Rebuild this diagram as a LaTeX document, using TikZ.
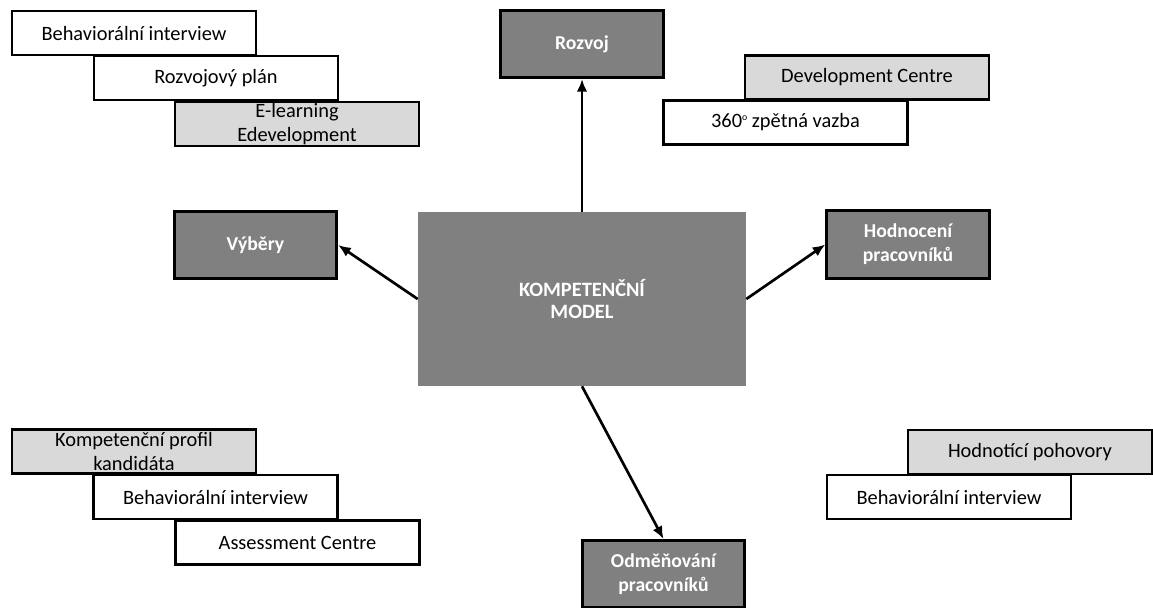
\documentclass[tikz,border=0pt]{standalone}
\usepackage{fontspec}
\setmainfont{Carlito}
\usepackage{xcolor}
\usetikzlibrary{arrows.meta}

\definecolor{darkbox}{RGB}{128,128,128}
\definecolor{lightbox}{RGB}{217,217,217}

\begin{document}
\begin{tikzpicture}[x=0.025cm, y=-0.025cm,
    box/.style={draw, line width=2pt, align=center, inner sep=1pt, font=\fontsize{14.5}{17}\selectfont},
    tool/.style={box, fill=white, minimum width=6.1cm, minimum height=1.1cm},
    toolgray/.style={tool, fill=lightbox},
    area/.style={box, fill=darkbox, text=white, minimum width=4.06cm, minimum height=1.68cm, font=\fontsize{14}{17}\selectfont\bfseries},
    core/.style={fill=darkbox, text=white, minimum width=8.2cm, minimum height=4.35cm, align=center, font=\fontsize{14.5}{16}\selectfont\bfseries},
    arrow/.style={-{Latex[length=9pt,width=7.5pt]}, line width=1.9pt}
]
\useasboundingbox (0,0) rectangle (1153,607);
\clip (0,0) rectangle (1153,607);

\node[core] at (582,299) (model) {KOMPETENČNÍ\\MODEL};

\node[area] at (582,44) (rozvoj) {Rozvoj};
\node[area] at (255.5,245) (vybery) {Výběry};
\node[area] at (908,244.5) (hodnoceni) {Hodnocení\\pracovníků};
\node[area] at (663.5,574) (odmena) {Odměňování\\pracovníků};

% rozvoj - left stack
\node[tool] at (134,33) (behavA) {Behaviorální interview};
\node[tool] at (216,78) (plan) {Rozvojový plán};
\node[toolgray] at (297,124) (elearn) {E-learning\\Edevelopment};

% rozvoj - right stack
\node[toolgray] at (867,77.5) (devcentre) {Development Centre};
\node[tool] at (785.5,122.5) (zpetna) {360\raisebox{0.75ex}{\scriptsize o} zpětná vazba};

% vybery stack
\node[toolgray] at (134,451.5) (profil) {Kompetenční profil\\kandidáta};
\node[tool] at (215.5,497) (behavB) {Behaviorální interview};
\node[tool] at (297.5,542.5) (assess) {Assessment Centre};

% hodnoceni stack
\node[toolgray] at (1030,452) (pohovory) {Hodnotící pohovory};
\node[tool] at (949,497) (behavC) {Behaviorální interview};

\draw[arrow] (model.north) -- (rozvoj.south);
\draw[arrow] (model.west) -- (vybery.east);
\draw[arrow] (model.east) -- (hodnoceni.west);
\draw[arrow] (model.south) -- (odmena.north);
\end{tikzpicture}
\end{document}
